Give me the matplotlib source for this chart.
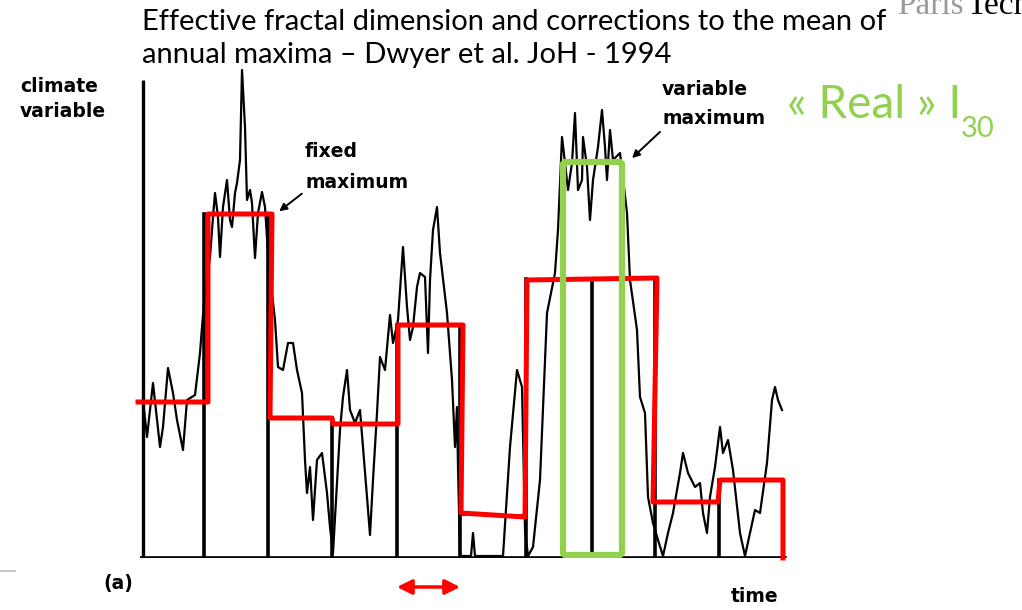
import numpy as np
import matplotlib.pyplot as plt
from matplotlib.patches import FancyBboxPatch

# time axis: arbitrary units (10 "years" of ~64 units), value in arbitrary units
t = [3, 7, 13, 20, 23, 28, 33, 37, 43, 47, 55, 60, 62, 65, 70, 73, 75, 78, 80, 83,
     87, 90, 92, 95, 97, 100, 102, 105, 107, 110, 112, 115, 118, 122, 125, 128, 132,
     135, 138, 143, 148, 153, 157, 162, 165, 167, 170, 173, 177, 182, 187, 190, 193,
     200, 203, 207, 210, 215, 220, 223, 227, 230, 233, 237, 240, 245, 248, 250, 253,
     258, 263, 267, 270, 273, 277, 280, 285, 288, 290, 293, 297, 300, 307, 312, 315,
     317, 318, 320, 331, 333, 335, 363, 370, 377, 382, 385, 388, 393, 400, 407, 415,
     418, 422, 425, 428, 432, 435, 438, 442, 443, 447, 450, 453, 458, 462, 465, 467,
     470, 473, 480, 487, 490, 497, 500, 505, 508, 513, 518, 523, 528, 533, 540, 543,
     548, 555, 560, 563, 567, 570, 575, 580, 583, 588, 593, 600, 605, 610, 615, 620,
     627, 632, 635, 638, 642]
v = [158, 121, 175, 111, 131, 190, 165, 138, 108, 158, 163, 205, 231, 265, 301, 341,
     365, 341, 301, 351, 378, 338, 331, 365, 375, 398, 488, 431, 358, 368, 355, 300,
     345, 366, 351, 305, 265, 238, 191, 188, 215, 215, 188, 165, 98, 65, 91, 38, 98,
     105, 65, 31, 5, 128, 161, 188, 148, 135, 148, 111, 61, 23, 78, 145, 201, 188,
     221, 243, 215, 238, 311, 251, 218, 231, 271, 285, 281, 205, 278, 328, 351, 305,
     245, 178, 111, 151, 91, 2, 2, 25, 2, 2, 111, 188, 171, 28, 2, 11, 78, 245, 285,
     328, 421, 395, 368, 395, 445, 368, 378, 421, 391, 338, 378, 411, 448, 411, 378,
     428, 398, 405, 345, 278, 228, 161, 145, 61, 35, 18, 2, 25, 45, 85, 105, 85, 71,
     75, 45, 25, 61, 91, 131, 105, 118, 88, 25, 2, 25, 48, 45, 95, 158, 171, 158, 148]

# year boundaries and annual maxima (original figure)
years = [0, 64, 128, 192, 257, 320, 386, 452, 515, 579, 643]
year_max = [156, 344, 140, 134, 233, 43, 279, 279, 56, 78]

# red overlay "fixed maximum" as drawn on the slide
red_t = [-2, 68, 68, 132, 130, 192, 193, 258, 258, 323, 321, 385, 387, 517, 513, 578, 580, 643, 643]
red_v = [156, 156, 344, 344, 140, 140, 134, 134, 233, 233, 45, 41, 278, 280, 56, 56, 78, 78, 0]

# green "variable maximum" window
win_start, win_end, win_top = 423, 482, 396

W, H = 1022, 610
fig = plt.figure(figsize=(W / 100, H / 100), dpi=100)
ax = fig.add_axes([140 / W, 52 / H, 650 / W, 498 / H])
ax.set_xlim(0, 650)
ax.set_ylim(0, 498)
ax.axis('off')

def fx(x):
    return x / W

def fy(y):
    return 1 - y / H

# axes of the scanned figure
ax.plot([3, 3], [0, 478], color='black', lw=2.4, solid_capstyle='butt')
ax.plot([0, 645], [0, 0], color='black', lw=2.6)

ax.plot(t, v, color='black', lw=1.6)
for i in range(1, len(years) - 1):
    h = max(year_max[i - 1], year_max[i])
    ax.plot([years[i], years[i]], [0, h], color='black', lw=2.6)
for i in range(len(year_max)):
    ax.plot([years[i], years[i + 1]], [year_max[i], year_max[i]], color='black', lw=1.2)

ax.plot(red_t, red_v, color='#ff0000', lw=3.6, solid_joinstyle='round', clip_on=False)

box = FancyBboxPatch((win_start, 3), win_end - win_start, win_top - 3,
                     boxstyle='round,pad=0,rounding_size=3', fill=False,
                     edgecolor='#92d050', lw=4.5, zorder=5)
ax.add_patch(box)

# one-year double arrow under the axis
ax.annotate('', xy=(years[4], -29), xytext=(years[5], -29), annotation_clip=False,
            arrowprops=dict(arrowstyle='<|-|>', color='#ff0000', lw=2.5, mutation_scale=22,
                            shrinkA=0, shrinkB=0))

# scanned labels
lab = dict(family='DejaVu Sans', weight='bold', fontsize=13.5, color='black')
fig.text(fx(20), fy(99), 'climate\nvariable', va='center', ha='left', linespacing=1.4, **lab)
fig.text(fx(305), fy(167), 'fixed\nmaximum', va='center', ha='left', linespacing=1.75, **lab)
fig.text(fx(662), fy(104), 'variable\nmaximum', va='center', ha='left', linespacing=1.7, **lab)
fig.text(fx(118), fy(583), '(a)', va='center', ha='center', **lab)
fig.text(fx(755), fy(597), 'time', va='center', ha='center', **lab)
ax.annotate('', xy=(137, 345), xytext=(164, 366),
            arrowprops=dict(arrowstyle='-|>', color='black', lw=1.4, mutation_scale=11))
ax.annotate('', xy=(490, 398), xytext=(522, 428),
            arrowprops=dict(arrowstyle='-|>', color='black', lw=1.4, mutation_scale=11))

# slide texts
fig.text(fx(142), fy(30), 'Effective fractal dimension and corrections to the mean of',
         family='Lato', fontsize=21, va='baseline', ha='left')
fig.text(fx(142), fy(63), 'annual maxima \u2013 Dwyer et al. JoH - 1994',
         family='Lato', fontsize=21, va='baseline', ha='left')
fig.text(fx(787), fy(118), '\u00ab Real \u00bb I', family='Lato', fontsize=33,
         color='#92d050', va='baseline', ha='left')
fig.text(fx(961), fy(137), '30', family='Lato', fontsize=21,
         color='#92d050', va='baseline', ha='left')
fig.text(fx(897), fy(14), 'Paris', family='Liberation Serif', fontsize=24,
         color='#9a9a9a', va='baseline', ha='left')
fig.text(fx(966), fy(14), 'Tech', family='Liberation Serif', fontsize=24,
         color='black', va='baseline', ha='left')
fig.add_artist(plt.Line2D([0, fx(15)], [fy(571), fy(571)], color='#c8c8c8', lw=1.5))

fig.savefig('out.png', dpi=100)
